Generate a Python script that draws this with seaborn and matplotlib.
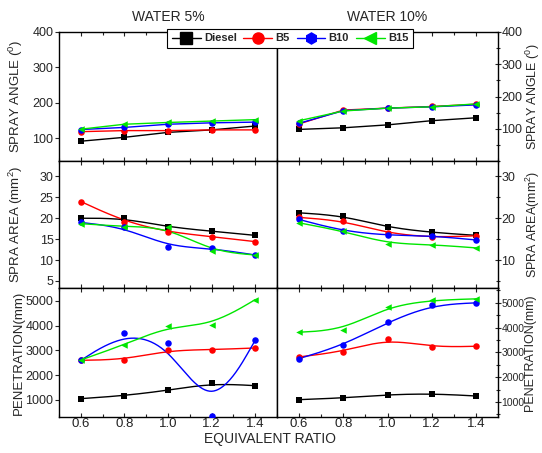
import matplotlib
matplotlib.use("Agg")
import matplotlib.pyplot as plt
from matplotlib.lines import Line2D
from matplotlib.ticker import MultipleLocator
import numpy as np
import seaborn as sns

sns.set_theme(style="ticks")
plt.rcParams['font.family'] = ['Liberation Sans', 'DejaVu Sans']
plt.rcParams['mathtext.default'] = 'regular'

# data
ratio = [0.6, 0.8, 1.0, 1.2, 1.4]
fuels = ['Diesel', 'B5', 'B10', 'B15']
colors = ['black', 'red', 'blue', '#00e600']
markers = ['s', 'o', 'o', '<']
legend_markers = ['s', 'o', 'h', '<']

angle_w5 = {'Diesel': [91, 102, 116, 123, 134],
            'B5': [118, 121, 121, 123, 123],
            'B10': [124, 130, 139, 143, 145],
            'B15': [125, 139, 144, 148, 152]}
angle_w10 = {'Diesel': [98, 103, 112, 125, 134],
             'B5': [115, 158, 164, 169, 176],
             'B10': [117, 156, 164, 168, 174],
             'B15': [125, 155, 164, 168, 177]}
area_w5 = {'Diesel': [20.0, 20.0, 17.9, 16.9, 15.9],
           'B5': [24.0, 19.2, 16.7, 15.6, 14.4],
           'B10': [19.0, 17.8, 13.2, 12.8, 11.2],
           'B15': [18.7, 18.0, 17.8, 12.1, 11.2]}
area_w10 = {'Diesel': [21.3, 20.6, 17.8, 16.6, 15.9],
            'B5': [20.2, 19.4, 16.4, 15.4, 15.8],
            'B10': [19.7, 16.9, 15.9, 15.8, 14.8],
            'B15': [18.9, 16.9, 13.9, 13.7, 12.9]}
pen_w5 = {'Diesel': [1054, 1175, 1390, 1673, 1579],
          'B5': [2603, 2630, 3007, 3034, 3101],
          'B10': [2603, 3721, 3290, 354, 3411],
          'B15': [2616, 3236, 3976, 4017, 5054]}
pen_w10 = {'Diesel': [1094, 1162, 1296, 1337, 1242],
           'B5': [2818, 3034, 3559, 3209, 3249],
           'B10': [2751, 3290, 4219, 4919, 5000],
           'B15': [3815, 3909, 4852, 5108, 5162]}


def bspline(x, y, n=40):
    # uniform cubic B-spline through the data as control points (ends tripled)
    P = np.column_stack([x, y]).astype(float)
    P = np.vstack([P[:1], P[:1], P, P[-1:], P[-1:]])
    t = np.linspace(0, 1, n)
    b = np.column_stack([(1 - t) ** 3,
                         3 * t ** 3 - 6 * t ** 2 + 4,
                         -3 * t ** 3 + 3 * t ** 2 + 3 * t + 1,
                         t ** 3]) / 6
    pts = np.vstack([b @ P[i:i + 4] for i in range(len(P) - 3)])
    return pts[:, 0], pts[:, 1]


def draw(ax, values, smooth):
    for fuel, color, marker in zip(fuels, colors, markers):
        y = values[fuel]
        if smooth:
            cx, cy = bspline(ratio, y)
        else:
            cx, cy = ratio, y
        sns.lineplot(x=cx, y=cy, ax=ax, color=color, lw=1, sort=False, estimator=None)
        sns.scatterplot(x=ratio, y=y, ax=ax, color=color, marker=marker, s=22,
                        edgecolor=color, linewidth=0, zorder=3)


fig = plt.figure(figsize=(5.42, 4.53), dpi=100)
W, H = 542, 453
cols = [(59, 277), (277, 498)]
rows = [(32, 161), (161, 288), (288, 417)]

panels = [
    [(angle_w5, False, (35, 400)), (angle_w10, False, (0, 400))],
    [(area_w5, True, (3.3, 33.7)), (area_w10, True, (3.3, 33.7))],
    [(pen_w5, True, (313, 5525)), (pen_w10, True, (394, 5600))],
]
ylabels = ['SPRAY ANGLE ($^{0}$)', 'SPRA AREA (mm$^{2}$)', 'PENETRATION(mm)']
ylabels_r = ['SPRAY ANGLE ($^{0}$)', 'SPRA AREA(mm$^{2}$)', 'PENETRATION(mm)']
yticks_l = [[100, 200, 300, 400], [5, 10, 15, 20, 25, 30], [1000, 2000, 3000, 4000, 5000]]
yticks_r = [[100, 200, 300, 400], [10, 20, 30], [1000, 2000, 3000, 4000, 5000]]
yminor_r = [50, 5, 500]
rtick_size = [9, 9, 7.5]

for r, (y0, y1) in enumerate(rows):
    for c, (x0, x1) in enumerate(cols):
        ax = fig.add_axes([x0 / W, 1 - y1 / H, (x1 - x0) / W, (y1 - y0) / H])
        values, smooth, ylim = panels[r][c]
        draw(ax, values, smooth)
        ax.set_xlim(0.5, 1.5)
        ax.set_ylim(*ylim)
        ax.set_xticks(ratio)
        ax.xaxis.set_minor_locator(MultipleLocator(0.1))
        ax.tick_params(axis='x', which='both', direction='in', top=True, bottom=True,
                       length=3, width=0.8, labelsize=9.5, colors='#222222', pad=1)
        ax.tick_params(axis='x', which='minor', length=2)
        for sp in ax.spines.values():
            sp.set_color('black')
            sp.set_linewidth(1)
            sp.set_visible(True)
        if r < 2:
            ax.set_xticklabels([])
        else:
            ax.set_xticklabels([f'{v:.1f}' for v in ratio])
        ax.set_xlabel('')
        if c == 0:
            ax.set_yticks(yticks_l[r])
            ax.tick_params(axis='y', direction='out', length=3, width=0.8,
                           labelsize=9, left=True, right=False, pad=1)
            ax.set_ylabel(ylabels[r], fontsize=9.5)
            ax.yaxis.set_label_coords(-0.155, 0.5)
        else:
            ax.yaxis.tick_right()
            ax.yaxis.set_label_position('right')
            ax.set_yticks(yticks_r[r])
            ax.yaxis.set_minor_locator(MultipleLocator(yminor_r[r]))
            ax.tick_params(axis='y', which='both', direction='inout', length=4, width=0.8,
                           labelsize=rtick_size[r], left=False, right=True, pad=0.5)
            ax.tick_params(axis='y', which='minor', length=3)
            ax.set_ylabel(ylabels_r[r], fontsize=9)
            ax.yaxis.set_label_coords(1.118, 0.5)
        if r == 0:
            ax.set_title('WATER 5%' if c == 0 else 'WATER 10%', fontsize=10, pad=8)

fig.text(270 / W, 1 - 439 / H, 'EQUIVALENT RATIO', ha='center', va='center', fontsize=10)

handles = [Line2D([], [], color=col, marker=m, markersize=8, lw=1)
           for col, m in zip(colors, legend_markers)]
leg = fig.legend(handles, fuels, loc='upper center', bbox_to_anchor=(290 / W, 1 - 29 / H),
                 ncol=4, frameon=True, fancybox=False, edgecolor='black', framealpha=1,
                 prop={'weight': 'bold', 'size': 8}, handlelength=2.6,
                 columnspacing=0.6, handletextpad=0.3, borderpad=0.4, borderaxespad=0)
leg.get_frame().set_linewidth(0.8)

fig.savefig('out.png', dpi=100)
